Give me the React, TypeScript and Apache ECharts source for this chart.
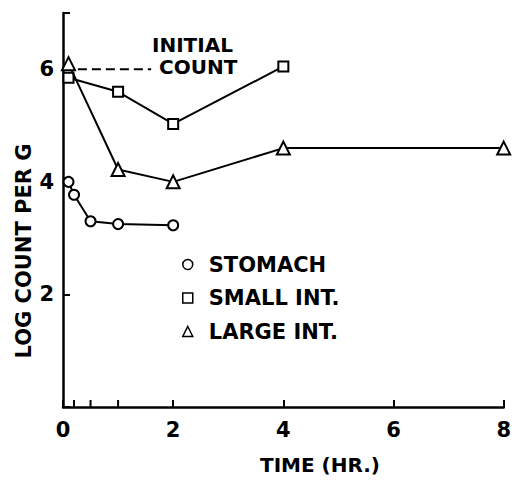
import React, { useEffect, useRef } from "react";
import * as echarts from "echarts";

const stomachX = [0.1, 0.2, 0.5, 1, 2];
const stomachY = [4.0, 3.77, 3.3, 3.25, 3.23];
const smallX = [0.1, 1, 2, 4];
const smallY = [5.85, 5.6, 5.03, 6.05];
const largeX = [0.1, 1, 2, 4, 8];
const largeY = [6.1, 4.22, 4.0, 4.6, 4.6];
const initialCountX = [0.27, 1.6];
const initialCountY = 6;
const minorTicksX = [0.2, 0.5, 1];
const yLabels = [2, 4, 6];

const FONT = "DejaVu Sans";

const zip = (xs: number[], ys: number[]) => xs.map((x, i) => [x, ys[i]]);

export default function App() {
  const ref = useRef<HTMLDivElement>(null);
  useEffect(() => {
    if (!ref.current) return;
    document.body.style.margin = "0";
    const chart = echarts.init(ref.current, null, { renderer: "svg" });
    const markerStyle = { color: "#fff", borderColor: "#000", borderWidth: 2 };
    const lineStyle = { color: "#000", width: 2 };
    chart.setOption({
      animation: false,
      backgroundColor: "#fff",
      grid: { left: 63, right: 7, top: 13, bottom: 73 },
      xAxis: {
        type: "value",
        min: 0,
        max: 8,
        interval: 2,
        axisLine: { lineStyle: { color: "#000", width: 2.5 } },
        axisTick: { inside: true, length: 7, lineStyle: { color: "#000", width: 2 } },
        axisLabel: { color: "#000", fontFamily: FONT, fontWeight: "bold", fontSize: 21, margin: 12 },
        splitLine: { show: false },
      },
      yAxis: {
        type: "value",
        min: 0,
        max: 7,
        interval: 2,
        axisLine: { show: true, lineStyle: { color: "#000", width: 2.5 } },
        axisTick: { show: true, inside: true, length: 7, lineStyle: { color: "#000", width: 2 } },
        axisLabel: {
          color: "#000",
          fontFamily: FONT,
          fontWeight: "bold",
          fontSize: 21,
          margin: 9,
          formatter: (v: number) => (yLabels.includes(v) ? String(v) : ""),
        },
        splitLine: { show: false },
      },
      legend: {
        orient: "vertical",
        left: 182,
        top: 254,
        padding: 0,
        itemWidth: 10,
        itemHeight: 10,
        itemGap: 12.5,
        textStyle: { color: "#000", fontFamily: FONT, fontWeight: "bold", fontSize: 21, padding: [0, 0, 0, 11] },
        itemStyle: { borderWidth: 1.5 },
        data: [
          { name: "STOMACH", icon: "circle" },
          { name: "SMALL INT.", icon: "rect" },
          { name: "LARGE INT.", icon: "triangle" },
        ],
      },
      graphic: [
        {
          type: "text",
          x: 152,
          y: 45,
          style: { text: "INITIAL", fill: "#000", font: `bold 20px "${FONT}"`, textAlign: "left", textVerticalAlign: "middle" },
        },
        {
          type: "text",
          x: 159,
          y: 67,
          style: { text: "COUNT", fill: "#000", font: `bold 20px "${FONT}"`, textAlign: "left", textVerticalAlign: "middle" },
        },
        {
          type: "text",
          x: 320,
          y: 465,
          style: { text: "TIME (HR.)", fill: "#000", font: `bold 20px "${FONT}"`, textAlign: "center", textVerticalAlign: "middle" },
        },
        {
          type: "text",
          x: 24,
          y: 251,
          rotation: Math.PI / 2,
          style: { text: "LOG COUNT PER G", fill: "#000", font: `bold 21px "${FONT}"`, textAlign: "center", textVerticalAlign: "middle" },
        },
      ],
      series: [
        {
          name: "INITIAL COUNT",
          type: "line",
          data: initialCountX.map((x) => [x, initialCountY]),
          showSymbol: false,
          symbol: "none",
          lineStyle: { color: "#000", width: 2, type: [9, 5] },
          silent: true,
        },
        {
          name: "STOMACH",
          type: "line",
          data: zip(stomachX, stomachY),
          symbol: "circle",
          symbolSize: 10,
          itemStyle: markerStyle,
          lineStyle,
          z: 3,
        },
        {
          name: "SMALL INT.",
          type: "line",
          data: zip(smallX, smallY),
          symbol: "rect",
          symbolSize: 10,
          itemStyle: markerStyle,
          lineStyle,
          z: 3,
        },
        {
          name: "LARGE INT.",
          type: "line",
          data: zip(largeX, largeY),
          symbol: "triangle",
          symbolSize: 13,
          itemStyle: markerStyle,
          lineStyle,
          z: 4,
        },
        {
          name: "minor ticks",
          type: "custom",
          data: minorTicksX.map((x) => [x, 0]),
          silent: true,
          renderItem: (_params: any, api: any) => {
            const p = api.coord([api.value(0), 0]);
            return {
              type: "line",
              shape: { x1: p[0], y1: p[1], x2: p[0], y2: p[1] - 7 },
              style: { stroke: "#000", lineWidth: 2 },
            };
          },
        },
      ],
    });
    return () => chart.dispose();
  }, []);
  return <div ref={ref} style={{ width: 514, height: 480 }} />;
}
